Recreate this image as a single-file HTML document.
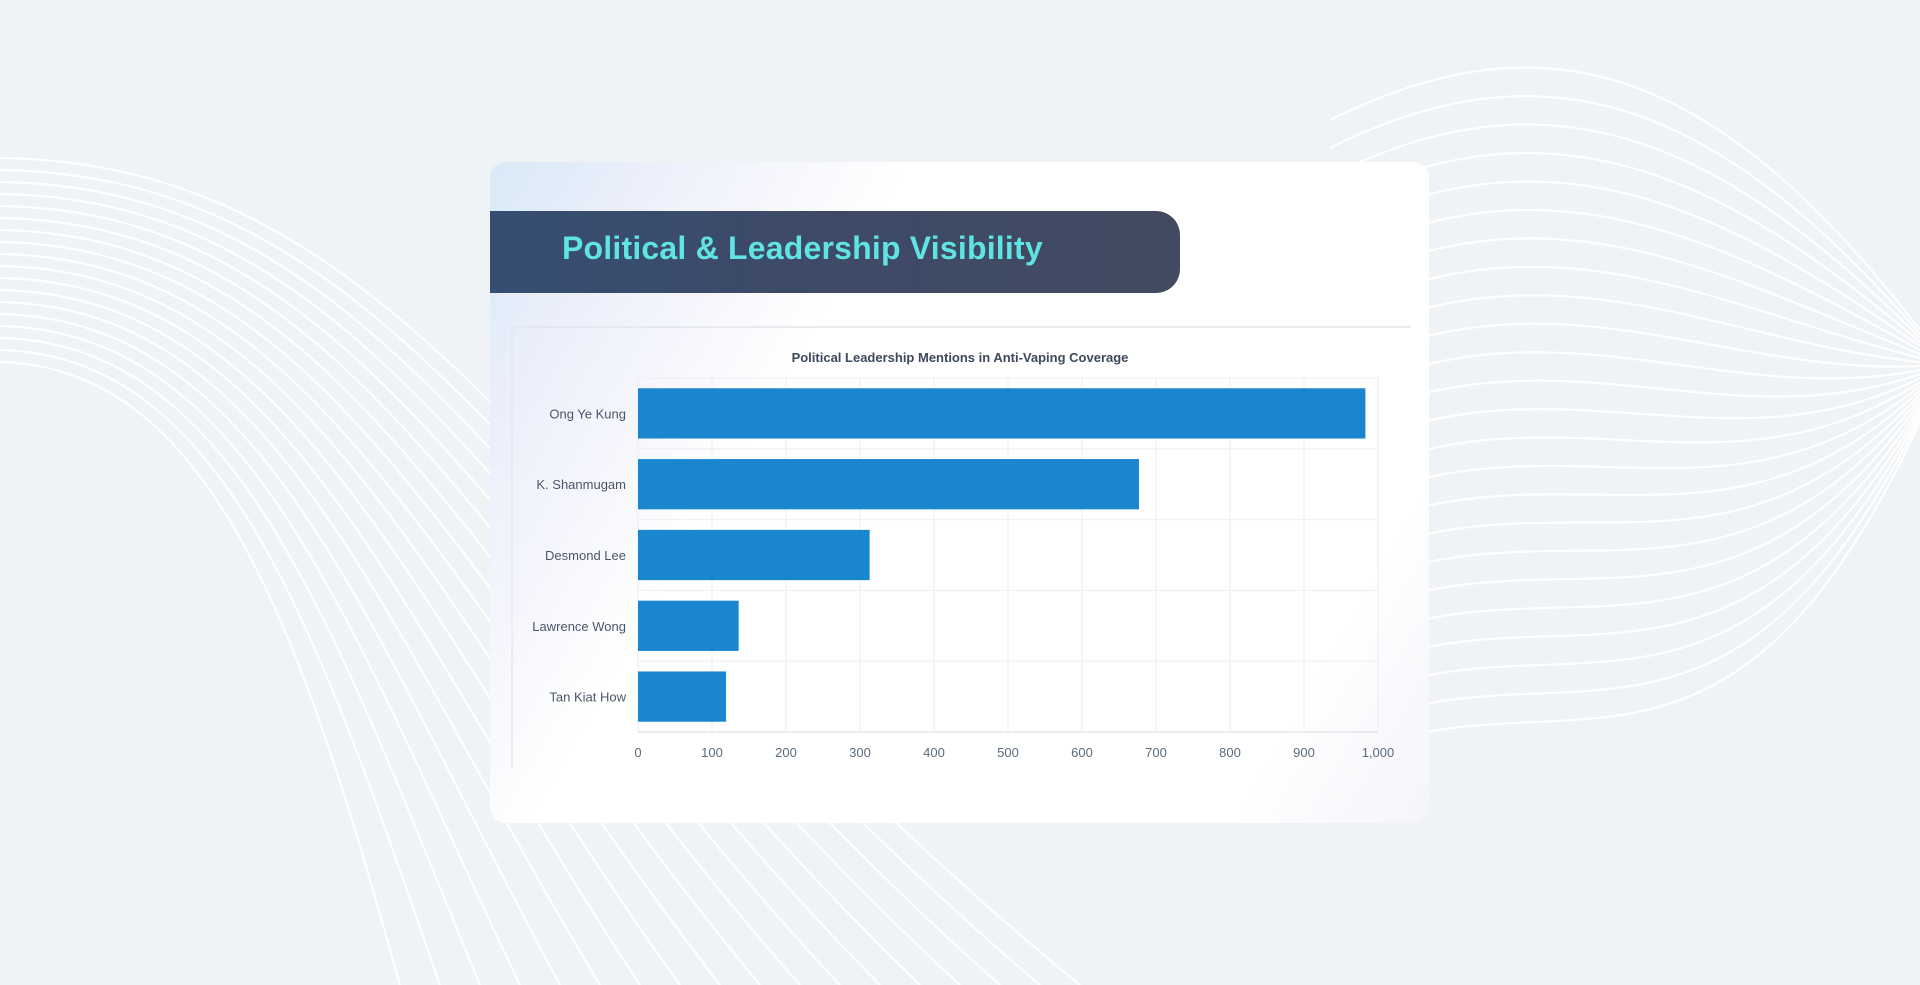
<!DOCTYPE html>
<html><head><meta charset="utf-8"><style>
html,body{margin:0;padding:0;}
body{width:1920px;height:985px;background:#f0f3f6;position:relative;overflow:hidden;font-family:"Liberation Sans",sans-serif;}
#bg{position:absolute;left:0;top:0;}
.card{position:absolute;left:490px;top:162px;width:939px;height:661px;border-radius:16px;background:linear-gradient(120deg,#d9e9f8 0%,#eef0fb 14%,#ffffff 32%,#ffffff 85%,#f4f4fb 100%);}
.header{position:absolute;left:490px;top:211px;width:690px;height:82px;border-radius:0 24px 24px 0;background:linear-gradient(90deg,#354e72 0%,#3d4a68 40%,#414a60 100%);}
.header span{position:absolute;left:72px;top:19px;font-size:32px;font-weight:bold;color:#5fe3e3;letter-spacing:0.2px;}
</style></head><body>
<svg id="bg" width="1920" height="985"><g id="waves" fill="none" stroke="#ffffff" stroke-width="2"></g></svg>
<div class="card"></div>
<div class="header"><span>Political &amp; Leadership Visibility</span></div>
<svg id="chart" width="1920" height="985" style="position:absolute;left:0;top:0"></svg>
<script>
const categories=["Ong Ye Kung","K. Shanmugam","Desmond Lee","Lawrence Wong","Tan Kiat How"];
const values=[983,677,313,136,119];
const ticks=[0,100,200,300,400,500,600,700,800,900,1000];
const tickLabels=["0","100","200","300","400","500","600","700","800","900","1,000"];
const NS="http://www.w3.org/2000/svg";
function mk(p,t,a){const e=document.createElementNS(NS,t);for(const k in a)e.setAttribute(k,a[k]);p.appendChild(e);return e;}
const w=document.getElementById('waves');
for(let i=0;i<18;i++){
  const y0=158+i*12, xe=1080-i*40;
  const p=mk(w,'path',{d:`M0,${y0} C${420-i*12},${y0+5} ${560-i*15},${560+i*5} ${xe},985`});
  
  
}
for(let i=0;i<24;i++){
  const ys=100+i*28, mid=ys-70;
  const p=mk(w,'path',{d:`M1330,${ys+20} C1550,${mid-20} 1720,${mid+40+i*6} 1920,${330+i*4}`});
  
  
}
const svg=document.getElementById('chart');
const X0=638,X1=1378,YT=378,YB=732;
const x=v=>X0+(v/1000)*(X1-X0);
const band=(YB-YT)/categories.length;
const y=i=>YT+i*band;
let e=mk(svg,'line',{x1:512,y1:327,x2:1411,y2:327,stroke:'#e2e5ea','stroke-width':1.5});

e=mk(svg,'line',{x1:512,y1:327,x2:512,y2:769,stroke:'#e6e8ec','stroke-width':1.5});

e=mk(svg,'text',{x:960,y:362,'text-anchor':'middle','font-size':13,'font-weight':'bold',fill:'#3d4a5c'});
e.textContent='Political Leadership Mentions in Anti-Vaping Coverage';

ticks.forEach((t,i)=>{
  let g=mk(svg,'line',{x1:x(t),y1:YT,x2:x(t),y2:YB,stroke:'#eceef1','stroke-width':1});
  
  let l=mk(svg,'text',{x:x(t),y:757,'text-anchor':'middle','font-size':13,fill:'#5a6b7d'});
  l.textContent=tickLabels[i];
  
});
for(let i=0;i<=categories.length;i++){
  let g=mk(svg,'line',{x1:X0,y1:y(i),x2:X1,y2:y(i),stroke:i==categories.length?'#d5d9df':'#eceef1','stroke-width':1});
  
}
categories.forEach((c,i)=>{
  const bh=band*0.71;
  let b=mk(svg,'rect',{x:X0,y:y(i)+(band-bh)/2,width:x(values[i])-X0,height:bh,fill:'#1a86d0'});
  
  
  let l=mk(svg,'text',{x:626,y:y(i)+band/2+5,'text-anchor':'end','font-size':13,fill:'#4a5668'});
  l.textContent=c;
  
});
</script>
</body></html>
